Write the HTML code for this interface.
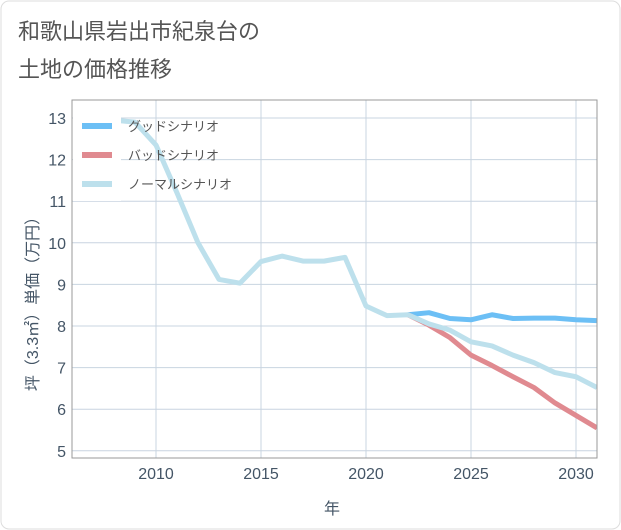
<!DOCTYPE html>
<html><head><meta charset="utf-8">
<style>
html,body{margin:0;padding:0;width:621px;height:530px;background:#fff;overflow:hidden;}
svg{display:block;font-family:"Liberation Sans","Noto Sans CJK JP",sans-serif;}
</style></head>
<body>
<svg width="621" height="530">
<rect x="1" y="1" width="619" height="528" rx="8" fill="#fff" stroke="#ddd"/>
<text x="18" y="39" font-size="22" fill="#555">和歌山県岩出市紀泉台の</text>
<text x="18" y="77" font-size="22" fill="#555">土地の価格推移</text>
<g id="grid"></g>
<g id="series"></g>
<rect x="72" y="100" width="525" height="358" fill="none" stroke="#999"/>
<g id="ticks"></g>
<text x="332" y="514" font-size="16" fill="#445566" text-anchor="middle">年</text>
<text transform="translate(38,300) rotate(-90)" font-size="16" fill="#445566" text-anchor="middle">坪（3.3㎡）単価（万円）</text>
<g>
<rect x="73" y="101" width="48" height="100" fill="#fff"/>
<line x1="82" y1="126" x2="112" y2="126" stroke="#6cbff5" stroke-width="6"/>
<text x="128" y="131" font-size="13" fill="#555">グッドシナリオ</text>
<line x1="82" y1="155" x2="112" y2="155" stroke="#e08a90" stroke-width="6"/>
<text x="128" y="160" font-size="13" fill="#555">バッドシナリオ</text>
<line x1="82" y1="184" x2="112" y2="184" stroke="#bde0ec" stroke-width="6"/>
<text x="128" y="189" font-size="13" fill="#555">ノーマルシナリオ</text>
</g>
</svg>
<script>
const xTicks=[2010,2015,2020,2025,2030];
const yTicks=[5,6,7,8,9,10,11,12,13];
const normalYears=[2008,2009,2010,2011,2012,2013,2014,2015,2016,2017,2018,2019,2020,2021,2022,2023,2024,2025,2026,2027,2028,2029,2030,2031];
const normalVals=[12.95,12.9,12.35,11.2,10.0,9.12,9.03,9.55,9.68,9.56,9.56,9.65,8.48,8.25,8.27,8.05,7.9,7.62,7.52,7.3,7.12,6.88,6.78,6.52];
const futureYears=[2022,2023,2024,2025,2026,2027,2028,2029,2030,2031];
const goodVals=[8.27,8.32,8.18,8.15,8.27,8.18,8.19,8.19,8.15,8.13];
const badVals=[8.27,8.02,7.72,7.3,7.05,6.78,6.52,6.15,5.85,5.55];
const NS="http://www.w3.org/2000/svg";
function xs(v){return 72+(v-2006)*21;}
function ys(v){return 118+(13-v)*41.6;}
const grid=document.getElementById('grid'),ticks=document.getElementById('ticks'),series=document.getElementById('series');
xTicks.forEach(t=>{
 const l=document.createElementNS(NS,'line');
 l.setAttribute('x1',xs(t));l.setAttribute('x2',xs(t));l.setAttribute('y1',100);l.setAttribute('y2',458);
 l.setAttribute('stroke','#c8d4e0');
 
 
 grid.appendChild(l);
 const tx=document.createElementNS(NS,'text');
 tx.setAttribute('x',xs(t));tx.setAttribute('y',479);tx.setAttribute('font-size','16');tx.setAttribute('fill','#445566');tx.setAttribute('text-anchor','middle');
 tx.textContent=t;
 
 
 ticks.appendChild(tx);
});
yTicks.forEach(t=>{
 const l=document.createElementNS(NS,'line');
 l.setAttribute('x1',72);l.setAttribute('x2',597);l.setAttribute('y1',ys(t));l.setAttribute('y2',ys(t));
 l.setAttribute('stroke','#c8d4e0');
 
 
 grid.appendChild(l);
 const tx=document.createElementNS(NS,'text');
 tx.setAttribute('x',66);tx.setAttribute('y',ys(t)+6);tx.setAttribute('font-size','16');tx.setAttribute('fill','#445566');tx.setAttribute('text-anchor','end');
 tx.textContent=t;
 
 
 ticks.appendChild(tx);
});
function line(years,vals,color,name){
 const p=document.createElementNS(NS,'polyline');
 p.setAttribute('points',years.map((y,i)=>xs(y)+','+ys(vals[i])).join(' '));
 p.setAttribute('fill','none');p.setAttribute('stroke',color);p.setAttribute('stroke-width','5');p.setAttribute('stroke-linejoin','round');
 
 
 series.appendChild(p);
}
line(futureYears,goodVals,'#6cbff5','good-scenario-line');
line(futureYears,badVals,'#e08a90','bad-scenario-line');
line(normalYears,normalVals,'#bde0ec','normal-scenario-line');
const clip=document.createElementNS(NS,'clipPath');clip.setAttribute('id','c');
const cr=document.createElementNS(NS,'rect');cr.setAttribute('x',72);cr.setAttribute('y',100);cr.setAttribute('width',525);cr.setAttribute('height',358);
clip.appendChild(cr);series.appendChild(clip);series.setAttribute('clip-path','url(#c)');
</script>
</body></html>
